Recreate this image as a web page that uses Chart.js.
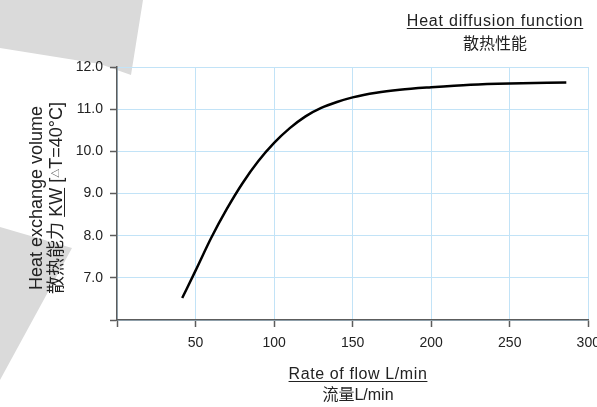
<!DOCTYPE html>
<html>
<head>
<meta charset="utf-8">
<script src="https://cdn.jsdelivr.net/npm/chart.js@4.4.1/dist/chart.umd.min.js"></script>
<style>
  html, body { margin: 0; padding: 0; background: #fff; overflow: hidden; }
  #wrap { position: relative; width: 620px; height: 407px; font-family: "Liberation Sans", "Noto Sans CJK SC", Arial, sans-serif; color: #222; }
  .shade { position: absolute; left: 0; top: 0; width: 200px; height: 407px; background: #dadada; }
  #shade1 { clip-path: polygon(0 0, 143px 0, 131px 75px, 100px 64px, 50px 56px, 0 48px); }
  #shade2 { clip-path: polygon(0 227px, 72px 248px, 0 380px); }
  canvas { position: absolute; left: 0; top: 0; }
  .lbl { position: absolute; white-space: nowrap; text-align: center; line-height: 16px; }
  .u { text-decoration: underline; text-underline-offset: 2px; text-decoration-thickness: 1px; }
  #ylab { position: absolute; left: -74.5px; top: 178px; width: 240px; height: 40px; font-size: 18px; line-height: 20px; text-align: center; white-space: nowrap; transform: rotate(-90deg); }
  .tri { font-size: 9px; vertical-align: 3px; }
</style>
</head>
<body>
<div id="wrap">
  <div class="shade" id="shade1"></div>
  <div class="shade" id="shade2"></div>
  <canvas id="heatChart" width="620" height="407"></canvas>

  <div class="lbl u" style="left:395px; top:13px; width:200px; font-size:16px; letter-spacing:0.8px;">Heat diffusion function</div>
  <div class="lbl" style="left:395px; top:36px; width:200px; font-size:16px;">散热性能</div>

  <div class="lbl u" style="left:258px; top:366px; width:200px; font-size:16px; letter-spacing:0.6px;">Rate of flow L/min</div>
  <div class="lbl" style="left:258px; top:387px; width:200px; font-size:16px;">流量L/min</div>

  <div id="ylab">Heat exchange volume<br>散热能力 <span class="u">KW</span> [<span class="tri">△</span>T=40°C]</div>
</div>

<script>
// flow rate (L/min) vs heat exchange (KW)
const flowRate = [41.5, 50, 60, 70, 80, 90, 100, 110, 120, 130, 140, 150, 165, 180, 200, 225, 250, 286];
const heatKW   = [6.52, 7.17, 7.95, 8.64, 9.25, 9.77, 10.20, 10.55, 10.83, 11.03, 11.17, 11.28, 11.39, 11.46, 11.52, 11.58, 11.61, 11.63];

const xTicks = [0, 50, 100, 150, 200, 250, 300];
const yTicks = [6, 7, 8, 9, 10, 11, 12];

const gridBlue = '#c2e3f7';
const axisGray = '#5c5c5c';
const tickFont = { family: '"Liberation Sans", Arial, sans-serif', size: 14 };

const points = flowRate.map((f, i) => ({ x: f, y: heatKW[i] }));

new Chart(document.getElementById('heatChart'), {
  type: 'line',
  data: {
    datasets: [{
      data: points,
      borderColor: '#000',
      borderWidth: 2.5,
      pointRadius: 0,
      fill: false,
      cubicInterpolationMode: 'monotone'
    }]
  },
  options: {
    responsive: false,
    animation: false,
    layout: { padding: { left: 0, top: 67, right: 31.7, bottom: 0 } },
    plugins: { legend: { display: false }, tooltip: { enabled: false } },
    scales: {
      x: {
        type: 'linear',
        min: xTicks[0],
        max: xTicks[xTicks.length - 1],
        ticks: {
          stepSize: xTicks[1] - xTicks[0],
          padding: 8,
          color: '#222',
          font: tickFont,
          maxRotation: 0,
          autoSkip: false,
          callback: v => (v === xTicks[0] ? '' : v)
        },
        grid: { color: gridBlue, lineWidth: 1, tickColor: axisGray, tickLength: 7, tickWidth: 1.5 },
        border: { color: axisGray, width: 1.5 },
        afterFit: s => { s.height = 87; }
      },
      y: {
        min: yTicks[0],
        max: yTicks[yTicks.length - 1],
        ticks: {
          stepSize: 1,
          padding: 7,
          color: '#222',
          font: tickFont,
          callback: v => (v === yTicks[0] ? '' : v.toFixed(1))
        },
        grid: { color: gridBlue, lineWidth: 1, tickColor: axisGray, tickLength: 7, tickWidth: 1.5 },
        border: { color: axisGray, width: 1.5 },
        afterFit: s => { s.width = 117; }
      }
    }
  }
});
</script>
</body>
</html>
